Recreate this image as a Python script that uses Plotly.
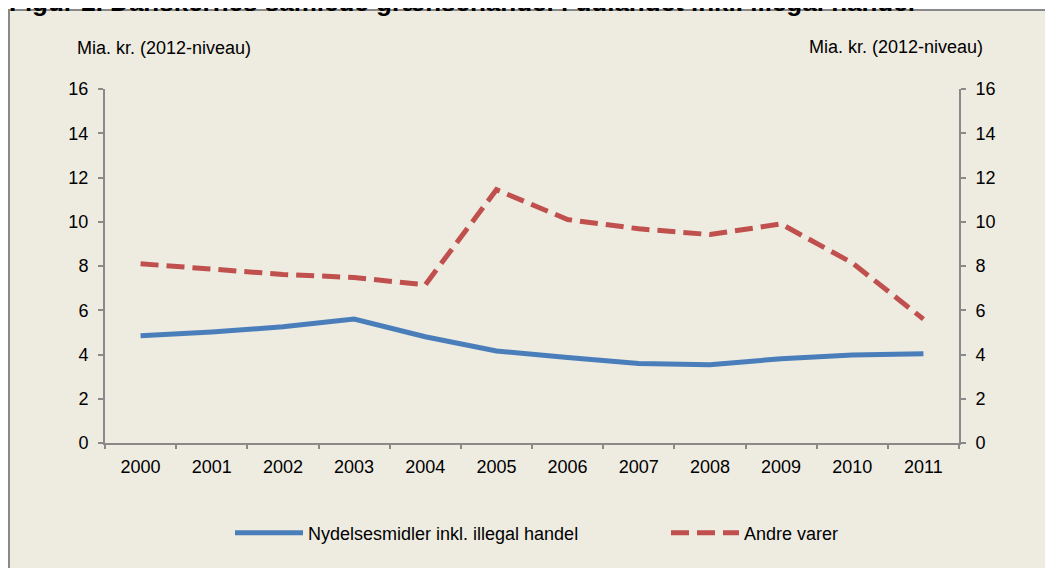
import plotly.graph_objects as go

years = ["2000", "2001", "2002", "2003", "2004", "2005", "2006", "2007", "2008", "2009", "2010", "2011"]
nydelse = [4.85, 5.02, 5.25, 5.60, 4.80, 4.16, 3.86, 3.59, 3.54, 3.81, 3.98, 4.03]
andre = [8.10, 7.85, 7.62, 7.48, 7.15, 11.45, 10.10, 9.68, 9.42, 9.90, 8.14, 5.60]
yticks = [0, 2, 4, 6, 8, 10, 12, 14, 16]

OFF = 8  # page body margin
W, H = 1053 - OFF, 568 - OFF
# plot area in page pixels
L, R, T, B = 105, 959, 89, 443.5
pw, ph = R - L, B - T

def px(x):
    return (x - L) / pw

def py(y):
    return 1 - (y - T) / ph

BG = "#EEEBE0"
AX = "#898989"
FONT = "Liberation Sans, Arial, sans-serif"
FS = 18

fig = go.Figure()
fig.add_trace(go.Scatter(x=years, y=nydelse, mode="lines", name="Nydelsesmidler inkl. illegal handel",
                         line=dict(color="#4A7EBB", width=5), yaxis="y", legend="legend"))
fig.add_trace(go.Scatter(x=years, y=andre, mode="lines", name="Andre varer",
                         line=dict(color="#C0504D", width=5, dash="18px,8px"), yaxis="y2",
                         legend="legend2"))

axis_common = dict(range=[0, 16], tickvals=yticks, showgrid=False, zeroline=False,
                   showline=True, linecolor=AX, linewidth=2, ticks="outside", ticklen=5,
                   tickcolor=AX, tickwidth=2, tickfont=dict(size=FS, color="#000", family=FONT),
                   fixedrange=True, automargin=False, ticklabelstandoff=6)

leg_common = dict(orientation="h", xref="container", yref="container", xanchor="left",
                  y=1 - (533 - OFF) / H, yanchor="middle", bgcolor="rgba(0,0,0,0)",
                  font=dict(size=FS, family=FONT), itemwidth=68)

fig.update_layout(
    width=W, height=H,
    margin=dict(l=L - OFF, r=W - (R - OFF), t=T - OFF, b=H - (B - OFF), autoexpand=False),
    paper_bgcolor="white", plot_bgcolor=BG,
    font=dict(family=FONT, size=FS, color="#000"),
    xaxis=dict(type="category", showgrid=False, showline=True, linecolor=AX, linewidth=2,
               ticks="outside", ticklen=4, tickcolor=AX, tickwidth=2, tickson="boundaries",
               tickfont=dict(size=FS, color="#000", family=FONT), range=[-0.5, 11.5],
               automargin=False, ticklabelstandoff=6, fixedrange=True),
    yaxis=dict(**axis_common, side="left"),
    yaxis2=dict(**axis_common, side="right", overlaying="y"),
    showlegend=True,
    legend=dict(**leg_common, x=(236 - OFF - 6) / W),
    legend2=dict(**leg_common, x=(672 - OFF - 6) / W),
    shapes=[dict(type="rect", xref="paper", yref="paper", x0=px(9), x1=px(1080),
                 y0=py(600), y1=py(10), fillcolor=BG, line=dict(color=AX, width=2), layer="below")],
    annotations=[
        dict(text="Mia. kr. (2012-niveau)", xref="paper", yref="paper", x=px(163.5), y=py(47.5),
             xanchor="center", yanchor="middle", showarrow=False, font=dict(size=FS)),
        dict(text="Mia. kr. (2012-niveau)", xref="paper", yref="paper", x=px(896), y=py(47),
             xanchor="center", yanchor="middle", showarrow=False, font=dict(size=FS)),
        dict(text="<b>Figur 2. Danskernes samlede grænsehandel i udlandet inkl. illegal handel</b>",
             xref="paper", yref="paper", x=px(7), y=py(1.6), xanchor="left", yanchor="middle",
             showarrow=False, font=dict(size=26)),
    ],
)

fig.write_html("out.html")
